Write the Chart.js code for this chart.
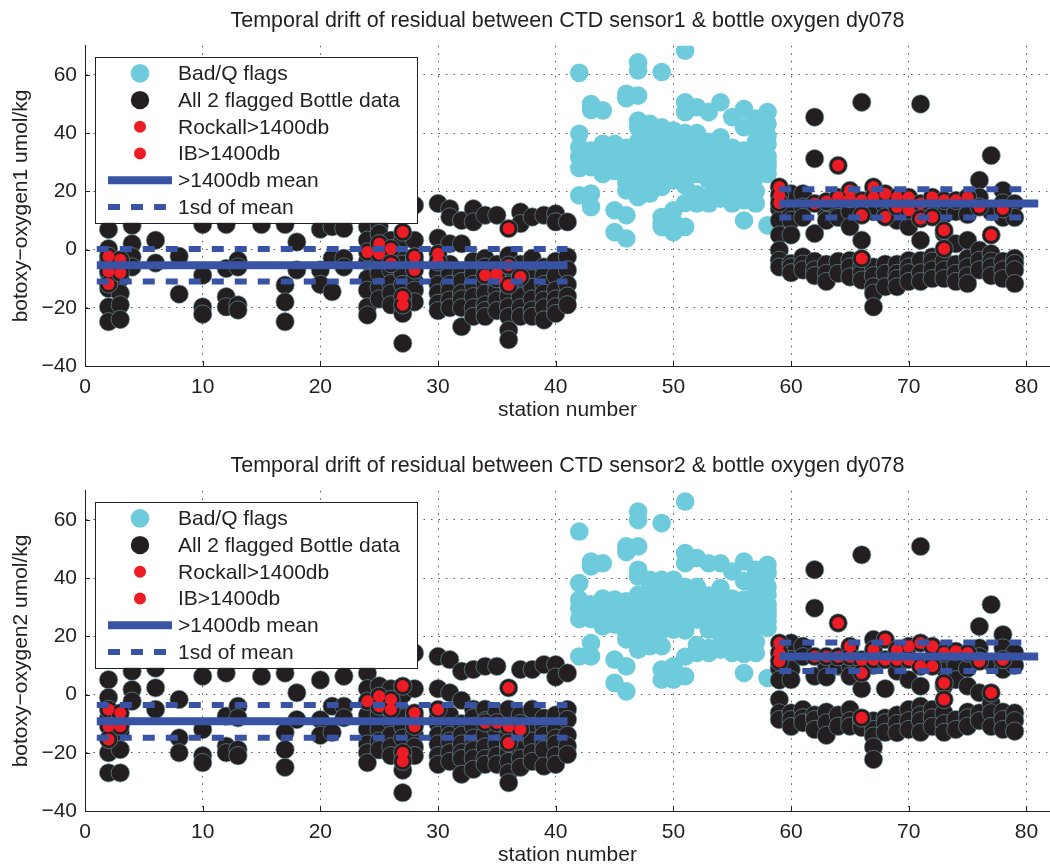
<!DOCTYPE html>
<html>
<head>
<meta charset="utf-8">
<script src="https://cdn.jsdelivr.net/npm/chart.js@4.4.0/dist/chart.umd.min.js"></script>
<style>
  html, body { margin: 0; padding: 0; background: #fff; overflow: hidden; }
  canvas { position: absolute; left: 0; }
  #oxy1 { top: 0; }
  #oxy2 { top: 445px; }
</style>
</head>
<body>
<canvas id="oxy1" width="1060" height="446"></canvas>
<canvas id="oxy2" width="1060" height="446"></canvas>
<script>
// axis ticks
const xTicks = [0, 10, 20, 30, 40, 50, 60, 70, 80];
const yTicks = [-40, -20, 0, 20, 40, 60];

// ---- sensor 1 : [station, [residuals]]
const s1BadQ = [
  [42, [60.7, 39.8, 35.2, 31.8, 28, 18.6]],
  [43, [50, 48, 34, 31, 28.3, 19.2, 14.6]],
  [44, [47.8, 36.3, 33, 30, 26]],
  [45, [36.3, 33, 30, 27, 13.5, 6]],
  [46, [53.5, 52, 35, 31, 28.3, 23, 20.3, 11.8, 3.8]],
  [47, [64.3, 61.5, 52.9, 44.3, 42, 37, 34, 31, 28, 24, 21.5, 18]],
  [48, [43.2, 40, 37.5, 34, 31, 28, 26, 22, 19.2]],
  [49, [61, 42, 38, 35.2, 32, 30.6, 26, 21.5, 11.2, 9, 7.8]],
  [50, [40.9, 37, 34, 31, 29, 26, 23.8, 13.5, 9.5, 6]],
  [51, [68.3, 50.6, 47.2, 40, 34, 31, 28.3, 25, 22, 16, 7.8]],
  [52, [48.9, 40, 37.5, 34, 31, 28, 26, 19, 15.8]],
  [53, [47.2, 37, 34, 31.8, 29, 27, 23.8, 18, 15.8]],
  [54, [50.6, 38.6, 35, 31.8, 29, 27, 24, 21.5, 17.5]],
  [55, [45.5, 35, 31.8, 28, 26, 23.8, 20, 15.8]],
  [56, [48.3, 42, 34, 30.6, 28, 25, 20, 17, 10]],
  [57, [45, 42, 37, 34, 31.8, 28, 25, 20, 15.8]],
  [58, [47.2, 43.2, 39, 36.3, 32, 30, 28.3, 26, 8.3]]
];
const s1Good = [
  [2, [6.9, 0.3, -4, -8, -13.4, -19.7, -24.8]],
  [3, [-5, -10, -15, -19, -24]],
  [4, [8.3, 2, -2.5, -6]],
  [6, [3.2, -4.6]],
  [8, [-2.3, -15.3]],
  [10, [8.6, -8.8, -19.7, -22.2]],
  [12, [8.6, -6.5, -16.2, -19.7]],
  [13, [-3.7, -6, -19, -20.8]],
  [15, [8.6]],
  [17, [8.6, -12.2, -18, -24.8]],
  [18, [2.6, -7]],
  [20, [7, -7, -12]],
  [21, [7.8, -3, -14.5]],
  [22, [7.2, -3, -6]],
  [24, [7.8, 3.2, -4, -10, -14, -19.7, -22.5]],
  [25, [8, 5.5, 0, -4, -8.2, -13, -17]],
  [26, [3.2, -3, -7, -11.7, -15, -19]],
  [27, [3.2, -3, -5, -8.2, -12, -22, -32.2]],
  [28, [15.2, 3.2, -4, -11, -14, -18]],
  [30, [15.8, 4, -5, -8.2, -12, -15, -18.5, -21]],
  [31, [14, 11.2, 2, -5, -8.2, -12, -14, -17.4, -20]],
  [32, [10, 2, -8, -11, -15, -17, -20, -26.5]],
  [33, [14, 9.5, -4, -8.2, -12, -16.2, -20, -23]],
  [34, [11.8, -3, -6, -12, -15, -19, -21, -23]],
  [35, [11.8, -5, -8, -12, -14, -17.4, -21]],
  [36, [-2, -9, -13, -16, -19.7, -23, -27.7, -31]],
  [37, [12.9, 8.9, -5, -8, -13, -16.2, -20, -23]],
  [38, [11.2, -3, -8.2, -10, -13, -17, -20.8, -23]],
  [39, [11.8, -6, -9, -12, -15, -17.4, -20, -24.2]],
  [40, [12.3, 9.5, -4, -9, -14, -17, -19.7, -22]],
  [41, [9.5, -2.5, -7, -12, -16, -19]],
  [59, [14, 10, 5, -0.2, -3.7, -6]],
  [60, [19.2, 12.3, 10, 5, -4.8, -6, -8]],
  [61, [19.2, 14.6, 11, -2.5, -5, -7]],
  [62, [45.5, 31.2, 5.5, -4, -7, -9]],
  [63, [13, 10, -5, -8.2, -11]],
  [64, [17, 13, 11, -4, -8.2]],
  [65, [13, 7.8, -3.7, -6, -9.4]],
  [66, [50.6, 3.2, -6, -8, -10.5]],
  [67, [13, -6, -9, -12.8, -15, -19.7]],
  [68, [15, -5, -8.2, -12.8]],
  [69, [10, -5, -8.2, -10, -12.8]],
  [70, [7.8, -3.7, -6, -8, -11]],
  [71, [50, 3.2, -3.7, -8, -11]],
  [72, [14, -2.5, -4, -7, -10]],
  [73, [12, 5.5, -4, -7, -10]],
  [74, [13, 2, -5, -8.2, -11]],
  [75, [12, 3.2, -3, -6, -9, -11.7]],
  [76, [23.8, 18, -0.2, -3.7, -7]],
  [77, [32.3, 13, -1.4, -4, -6, -9]],
  [78, [20.3, 16, 11, -4, -7, -10]],
  [79, [15.8, 11, -3, -4.8, -7, -11.7]]
];
const s1Rockall = [
  [2, [-2.3, -7.5, -11.8]], [3, [-3.5, -8]], [24, [-0.8]], [25, [2, -1.4]],
  [26, [0.3, -4.8]], [27, [6, -16.2, -19]], [28, [-2.5, -7]], [30, [-1.4, -4.2]],
  [34, [-8.8]], [35, [-8.2, -10]], [36, [7.2, -5.4, -12.2]], [37, [-9.4]]
];
const s1IB = [
  [59, [21.5, 18.6, 16]], [62, [15.8]], [63, [16.5]], [64, [28.9, 18]],
  [65, [20.3, 17.5]], [66, [16.9, 11.8, -3.1]], [67, [21.5, 18]], [68, [19.2, 11.2]],
  [69, [18, 14.6]], [70, [18, 13.5]], [71, [15.8, 10.6]], [72, [18, 11.2]],
  [73, [16.9, 6.6, 0.3]], [74, [16.9]], [75, [18]], [76, [14.6]], [77, [5]], [78, [14]]
];
// [from station, to station, value]
const s1Mean = [[1, 41, -5.4], [59, 81, 15.8]];
const s1SdHi = [[1, 41, 0.2], [59, 80, 20.7]];
const s1SdLo = [[1, 41, -11.0], [59, 80, 11.0]];

// ---- sensor 2
const s2BadQ = [
  [42, [56, 38.3, 32.6, 29.7, 26, 13.1]],
  [43, [45.7, 44, 31, 29, 26, 17.7, 13.1]],
  [44, [45.1, 33, 30, 28, 23.4]],
  [45, [32.6, 30, 27, 24, 12, 4]],
  [46, [50.9, 49, 32, 28, 25, 21, 18.9, 9.7, 1.1]],
  [47, [62.9, 60, 50.9, 42.9, 40.6, 34.3, 31, 28, 26, 22, 18.9, 15.4]],
  [48, [39.4, 36.5, 33.7, 31, 28, 24.6, 20, 16.6]],
  [49, [58.9, 39.4, 36, 33.7, 30, 28, 25.7, 22, 16.6, 8.6, 5.1]],
  [50, [39.4, 34, 31.4, 28, 25, 22.3, 9.7, 5.1]],
  [51, [66.3, 48.6, 45.1, 37, 33.7, 30, 28, 25, 22, 13, 6.3]],
  [52, [46.9, 37, 34.9, 31, 28, 25.7, 17, 14.3]],
  [53, [45.1, 34, 33.7, 30.3, 27, 25, 22.3, 16, 14.3]],
  [54, [45.1, 36.6, 33, 30.3, 27, 25, 22, 20.6, 15.4]],
  [55, [42.3, 33, 30.3, 28, 26, 22.3, 18, 14.3]],
  [56, [45.7, 39, 32.6, 30, 28, 25, 22, 18, 14, 7.4]],
  [57, [42.9, 39, 36, 32, 30, 28, 23.4, 18, 14.3]],
  [58, [44.6, 41.7, 37, 34.3, 31, 29, 27, 25, 22.9, 5.7]]
];
const s2Good = [
  [2, [5.1, -1, -8, -20, -26.9]],
  [3, [-13, -18.9, -26.9]],
  [4, [8, 1.7, -2.3]],
  [6, [9.1, 2.3, -5.1]],
  [8, [-1.7, -14.9, -20]],
  [10, [6.3, -12, -21, -23.4]],
  [12, [7.4, -7.4, -17.7, -20]],
  [13, [-4, -8, -18.9, -21]],
  [15, [6.3]],
  [17, [7.4, -13, -18.9, -25]],
  [18, [0.6, -8.6]],
  [20, [5, -8.6, -14]],
  [21, [-4, -13]],
  [22, [6.3, -4, -8]],
  [24, [7.4, 2, -7, -12, -17, -20, -23.4]],
  [25, [3, -7, -12, -16, -19]],
  [26, [2, -9, -14, -18, -21]],
  [27, [0, -6, -8, -11, -15, -26, -33.7]],
  [28, [14.3, 2, -8, -14, -18, -21]],
  [30, [13.1, 2, -8, -10, -14, -17, -21, -24]],
  [31, [12, 0.6, -7, -11, -14, -16, -20, -23]],
  [32, [8, -2, -10, -14, -17, -20, -22, -27.4]],
  [33, [8.6, -5, -8, -11, -15, -19, -22, -25.7]],
  [34, [9.7, -5, -9, -14, -18, -22, -24]],
  [35, [9.7, -6, -11, -13, -17, -21, -24]],
  [36, [-5, -14, -18, -20, -23, -26.9, -30.3]],
  [37, [8.6, -7, -10, -15, -19, -22, -25]],
  [38, [8.6, -5, -11, -13, -16, -20, -23]],
  [39, [10.3, -8, -11, -14, -17, -19, -24.6]],
  [40, [10.3, 6, -7, -12, -15, -17, -21, -24]],
  [41, [7.4, -5.1, -8.6, -14, -17.7, -20.6]],
  [59, [9, 5, -1.7, -6.3, -8.6]],
  [60, [17.7, 12, 8.6, 5.1, -6.3, -8.6, -11]],
  [61, [16.6, 13, -5.1, -8, -9.7]],
  [62, [42.9, 29.7, 6.3, -7, -8.6, -12]],
  [63, [10, 6, -6, -9.7, -14]],
  [64, [9.7, 10, -7, -10.9]],
  [65, [10, 6.3, -5.1, -9, -10.9]],
  [66, [48, 2, -9, -11.3]],
  [67, [18.9, 10, -9, -12, -14.3, -18, -22.3]],
  [68, [12, 2, -8, -9.7, -13]],
  [69, [8, -7, -10, -13.1]],
  [70, [5.1, -5.1, -9, -12]],
  [71, [50.9, 2.9, -4, -7, -9, -13]],
  [72, [11, -5.1, -8, -11]],
  [73, [9, 3, -6.3, -10, -13]],
  [74, [10, 5.1, -8.6, -12]],
  [75, [9, 2.9, -6, -8, -10.9]],
  [76, [23.4, 16, 13, 0.6, -6.3, -9]],
  [77, [30.9, 11, -3, -6.3, -11]],
  [78, [20.6, 16, 8.6, -6, -8.6, -12]],
  [79, [14.3, 10, -6.3, -9, -12.6]]
];
const s2Rockall = [
  [2, [-5.1, -10.9, -15.4]], [3, [-6.3, -10.9]], [24, [-2.3]], [25, [-0.6, -4]],
  [26, [-1.7, -5.1]], [27, [2.9, -20, -22.9]], [28, [-6.3, -10.9]], [30, [-5.1]],
  [34, [-9.7]], [35, [-9.7]], [36, [2.3, -10.9, -16.6]], [37, [-12]]
];
const s2IB = [
  [59, [17.7, 14.3, 11.4]], [62, [13.1]], [63, [13.1]], [64, [24.6, 13]],
  [65, [16.6, 13]], [66, [12, 7.4, -8]], [67, [15.4, 12]], [68, [18.9, 12]],
  [69, [15.4, 12]], [70, [16.6, 12]], [71, [17.7, 9.7]], [72, [16.6, 9.7]],
  [73, [14.3, 4, -1.7]], [74, [14.9]], [75, [14.3]], [76, [11.4]], [77, [0.6]], [78, [12]]
];
const s2Mean = [[1, 41, -9.2], [59, 81, 13.1]];
const s2SdHi = [[1, 41, -3.6], [59, 80, 17.9]];
const s2SdLo = [[1, 41, -14.8], [59, 80, 8.1]];

const CYAN = '#6dcbdb', INK = '#231f20', RED = '#ed1c24', BLUE = '#3953a4';
const FONT = '"Liberation Sans", Arial, Helvetica, sans-serif';
Chart.defaults.font.family = FONT;
Chart.defaults.color = INK;

function pts(rows) {
  return rows.flatMap(([s, vs]) => vs.map(v => ({x: s, y: v})));
}
function segs(list) {
  const out = [];
  list.forEach(([a, b, v]) => { out.push({x: a, y: v}, {x: b, y: v}, {x: b, y: null}); });
  return out;
}
function minus(v) { return String(v).replace('-', '\u2212'); }

// MATLAB style legend box inside the axes
const legendBox = {
  id: 'legendBox',
  afterDraw(chart) {
    const {ctx, chartArea} = chart;
    const x0 = chartArea.left + 10, y0 = chartArea.top + 11;
    const w = 322, h = 166, rowH = 26.7;
    ctx.save();
    ctx.fillStyle = '#fff';
    ctx.fillRect(x0, y0, w, h);
    ctx.strokeStyle = INK;
    ctx.lineWidth = 1;
    ctx.strokeRect(Math.round(x0) + 0.5, Math.round(y0) + 0.5, w, h);
    ctx.font = '21px ' + FONT;
    ctx.textBaseline = 'middle';
    chart.data.datasets.forEach((ds, i) => {
      const cy = y0 + 16.6 + i * rowH;
      if (ds.type === 'line') {
        ctx.strokeStyle = ds.borderColor;
        ctx.lineWidth = ds.borderWidth;
        ctx.setLineDash(ds.borderDash || []);
        ctx.beginPath();
        ctx.moveTo(x0 + 13, cy);
        ctx.lineTo(x0 + 77, cy);
        ctx.stroke();
        ctx.setLineDash([]);
      } else {
        ctx.fillStyle = ds.backgroundColor;
        ctx.beginPath();
        ctx.arc(x0 + 45, cy, ds.pointRadius, 0, Math.PI * 2);
        ctx.fill();
      }
      ctx.fillStyle = INK;
      ctx.fillText(ds.label, x0 + 83, cy + 1);
    });
    ctx.restore();
  }
};

// inward tick marks
const inTicks = {
  id: 'inTicks',
  beforeDatasetsDraw(chart) {
    const {ctx, chartArea, scales} = chart;
    ctx.save();
    ctx.strokeStyle = INK;
    ctx.lineWidth = 1;
    ctx.beginPath();
    xTicks.forEach(t => {
      const px = Math.round(scales.x.getPixelForValue(t)) + 0.5;
      ctx.moveTo(px, chartArea.bottom);
      ctx.lineTo(px, chartArea.bottom - 5);
    });
    yTicks.forEach(t => {
      const py = Math.round(scales.y.getPixelForValue(t)) + 0.5;
      ctx.moveTo(chartArea.left, py);
      ctx.lineTo(chartArea.left + 5, py);
    });
    ctx.stroke();
    ctx.restore();
  }
};

function makeChart(id, title, ylabel, bad, good, rock, ib, mean, hi, lo) {
  const ctx = document.getElementById(id).getContext('2d');
  return new Chart(ctx, {
    type: 'scatter',
    data: {
      datasets: [
        { label: 'Bad/Q flags', data: pts(bad), backgroundColor: CYAN, borderWidth: 0,
          pointRadius: 9.3, order: 4 },
        { label: 'All 2 flagged Bottle data', data: pts([...good, ...rock, ...ib]),
          backgroundColor: INK, borderColor: 'rgba(110,150,160,0.8)', borderWidth: 0.8,
          pointRadius: 9.2, order: 3 },
        { label: 'Rockall>1400db', data: pts(rock), backgroundColor: RED, borderWidth: 0,
          pointRadius: 6, order: 2 },
        { label: 'IB>1400db', data: pts(ib), backgroundColor: RED, borderWidth: 0,
          pointRadius: 6, order: 2 },
        { type: 'line', label: '>1400db mean', data: segs(mean), showLine: true,
          borderColor: BLUE, borderWidth: 8, pointRadius: 0, spanGaps: false, order: 1 },
        { type: 'line', label: '1sd of mean', data: segs(hi).concat(segs(lo)), showLine: true,
          borderColor: BLUE, borderWidth: 6, borderDash: [12, 11], pointRadius: 0,
          spanGaps: false, order: 1 }
      ]
    },
    options: {
      responsive: false,
      animation: false,
      events: [],
      layout: { padding: { left: 0, right: 7, top: 0, bottom: 0 } },
      plugins: {
        legend: { display: false },
        tooltip: { enabled: false },
        title: { display: true, text: title, fullSize: false, color: INK,
          font: { size: 21.5, weight: 'normal' }, padding: { top: 8, bottom: 12 } }
      },
      scales: {
        x: {
          type: 'linear', min: 0, max: 82,
          afterBuildTicks: s => { s.ticks = xTicks.map(v => ({value: v})); },
          afterFit: s => { s.height = 80; },
          ticks: { font: { size: 21 }, padding: 9, color: INK, maxRotation: 0 },
          grid: { color: '#555', lineWidth: 1, drawTicks: false },
          border: { display: true, color: INK, width: 1, dash: [1.5, 6] },
          title: { display: true, text: 'station number', color: INK,
            font: { size: 21 }, padding: { top: 0, bottom: 23 } }
        },
        y: {
          min: -40, max: 70,
          afterBuildTicks: s => { s.ticks = yTicks.map(v => ({value: v})); },
          afterFit: s => { s.width = 85; },
          ticks: { font: { size: 21 }, padding: 8, color: INK, callback: v => minus(v) },
          grid: { color: '#555', lineWidth: 1, drawTicks: false },
          border: { display: true, color: INK, width: 1, dash: [1.5, 6] },
          title: { display: true, text: ylabel, color: INK,
            font: { size: 21 }, padding: { top: 9, bottom: 0 } }
        }
      }
    },
    plugins: [inTicks, legendBox]
  });
}

makeChart('oxy1', 'Temporal drift of residual between CTD sensor1 & bottle oxygen dy078',
  'botoxy\u2212oxygen1 umol/kg', s1BadQ, s1Good, s1Rockall, s1IB, s1Mean, s1SdHi, s1SdLo);
makeChart('oxy2', 'Temporal drift of residual between CTD sensor2 & bottle oxygen dy078',
  'botoxy\u2212oxygen2 umol/kg', s2BadQ, s2Good, s2Rockall, s2IB, s2Mean, s2SdHi, s2SdLo);
</script>
</body>
</html>
